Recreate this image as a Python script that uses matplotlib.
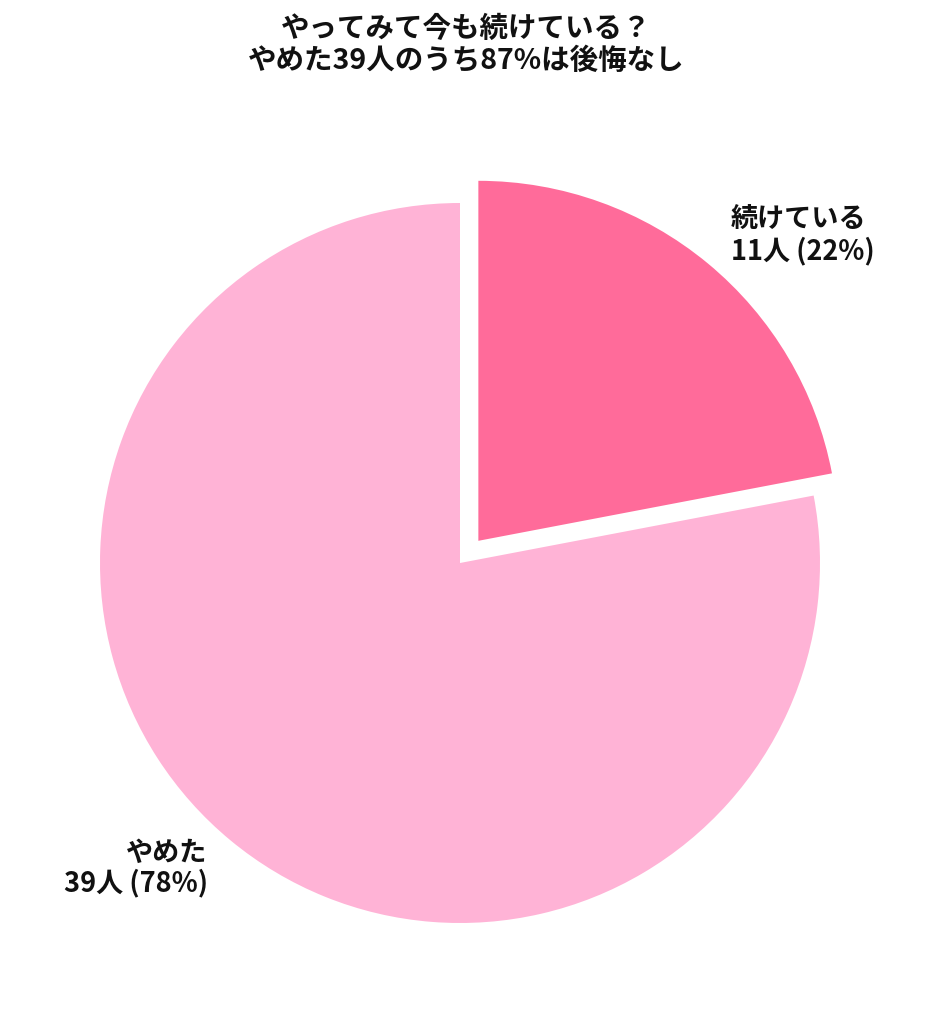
import matplotlib.pyplot as plt

plt.rcParams['font.family'] = ['Noto Sans CJK JP', 'DejaVu Sans']

# data
categories = ["続けている", "やめた"]
counts = [11, 39]
colors = ["#FF6B9A", "#FFB3D6"]
title = "やってみて今も続けている？\nやめた39人のうち87%は後悔なし"

total = sum(counts)
labels = [f"{c}\n{n}人 ({round(n / total * 100)}%)" for c, n in zip(categories, counts)]

W, H = 932, 1024
fig = plt.figure(figsize=(W / 100, H / 100), dpi=100)
ax = fig.add_axes([0, 0, 1, 1])

radius = 360
center = (460, H - 563)
wedges, texts = ax.pie(counts, colors=colors, labels=labels, startangle=90,
                       counterclock=False, radius=radius, center=center,
                       explode=[0.08 * radius, 0], labeldistance=1.10,
                       frame=True, wedgeprops=dict(linewidth=0),
                       textprops=dict(fontsize=19.5, fontweight="bold", color="#111111"))
ax.set_xlim(0, W)
ax.set_ylim(0, H)
ax.set_aspect("equal")
ax.axis("off")
for t in texts:
    x, _ = t.get_position()
    side = "left" if x > center[0] else "right"
    t.set_ha(side)
    t.set_va("center")
    t.set_multialignment(side)
    t.set_linespacing(1.1)

fig.text(0.5, 1 - 15 / H, title, ha="center", va="top", fontsize=20.5,
         fontweight="bold", color="#111111", linespacing=1.2)

fig.savefig("out.png", dpi=100, facecolor="white")
